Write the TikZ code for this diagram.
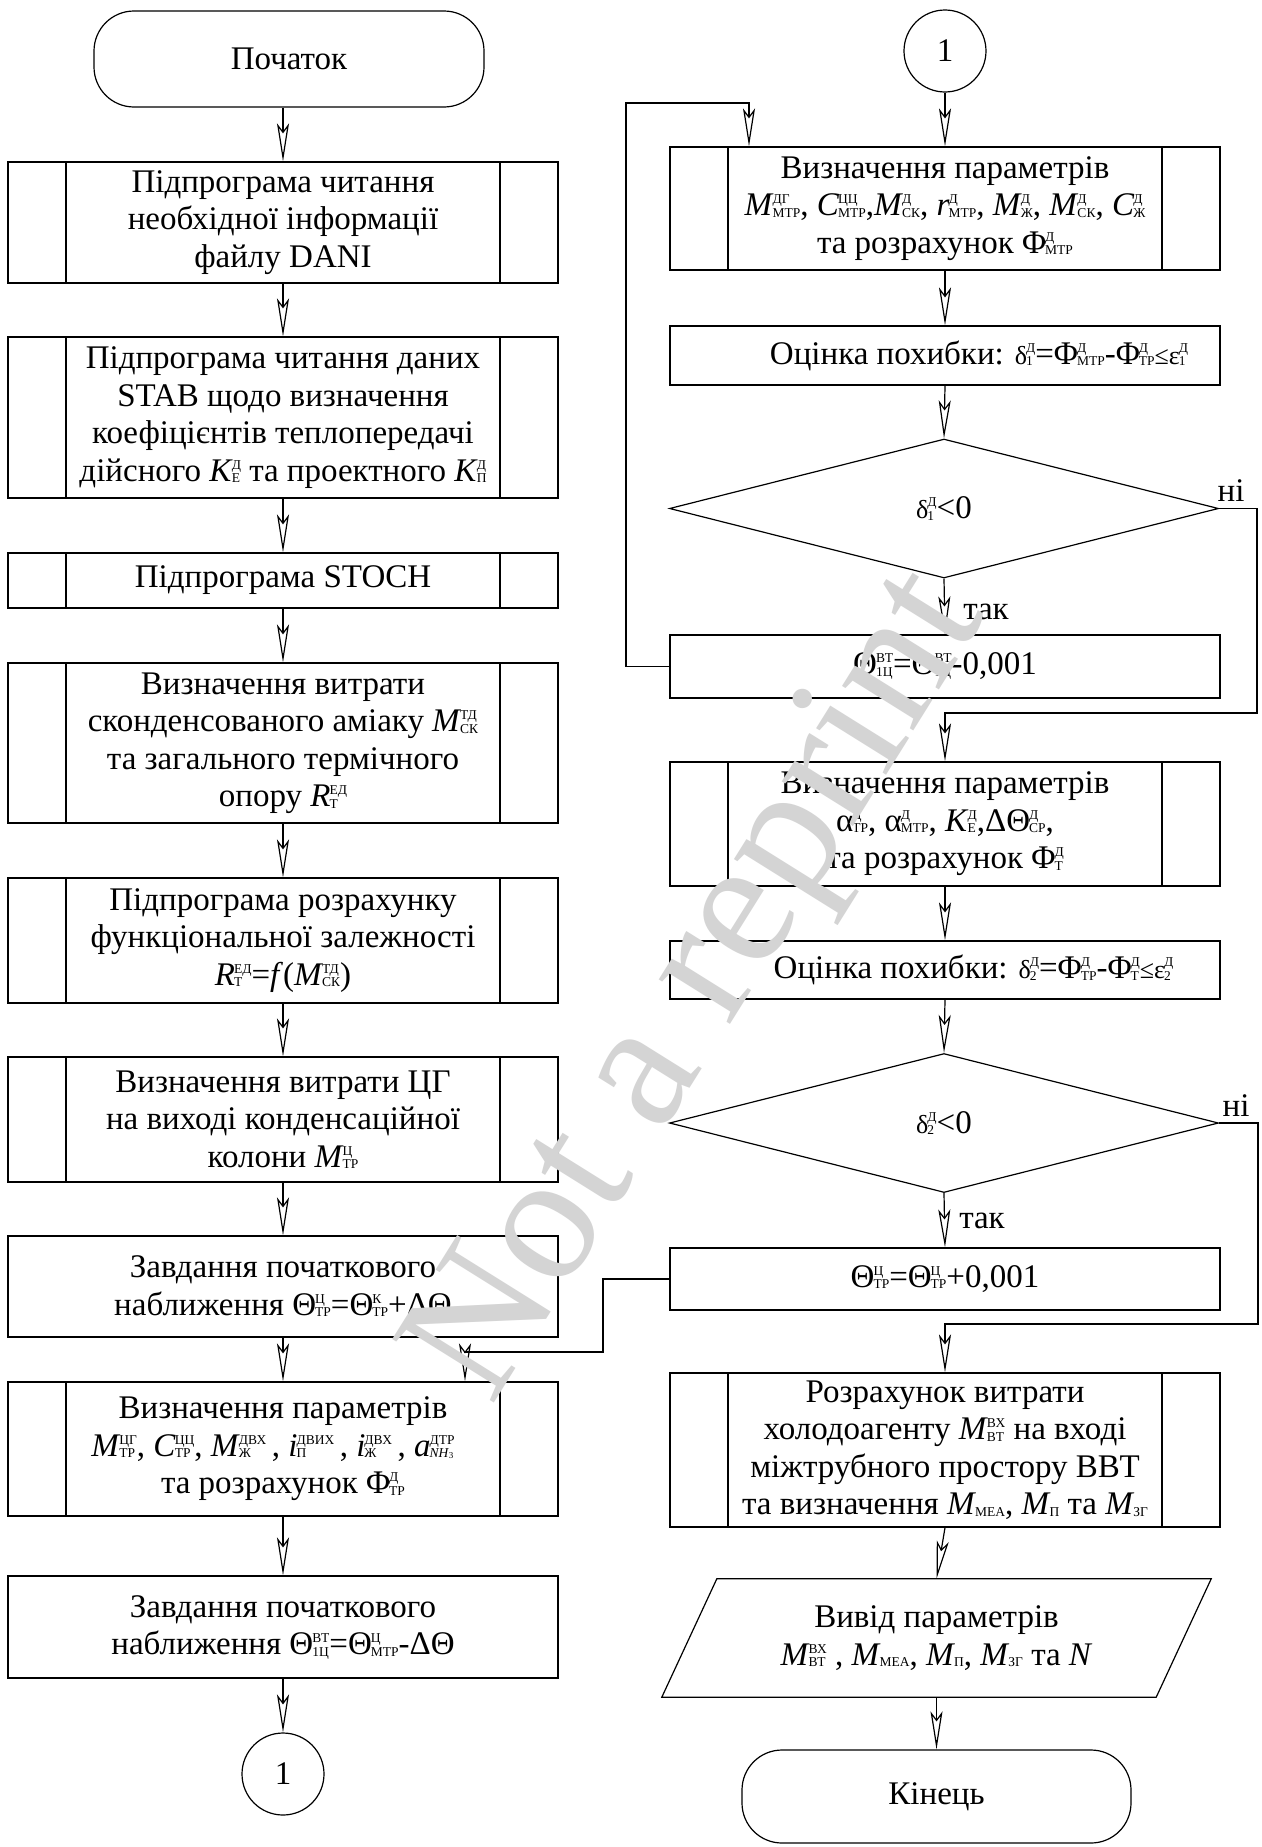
\documentclass[tikz,border=0pt]{standalone}
\usepackage{fontspec}
\setmainfont{Liberation Serif}
\usetikzlibrary{arrows.meta,shapes.geometric,calc}
\newcommand{\fs}{\fontsize{33}{37.5}\selectfont}
\newcommand{\scr}{\fontsize{13.5}{13.5}\selectfont}
\newcommand{\sm}{\fontsize{26}{26}\selectfont}
\newcommand{\sx}[2]{{\scr\setbox0=\hbox{#1}\setbox2=\hbox{#2}\dimen0=\wd0 \ifdim\wd2>\dimen0 \dimen0=\wd2 \fi\kern-1pt\rlap{\raise12pt\box0}\rlap{\lower1.5pt\box2}\kern\dimen0 }}
\newcommand{\sbx}[1]{{\scr\kern-1pt\lower1.5pt\hbox{#1}}}
\newcommand{\I}[1]{\textit{#1}}
\begin{document}
\begin{tikzpicture}[x=1pt,y=-1pt,
  every node/.style={font=\fs, inner sep=2pt, align=center},
  box/.style={draw, line width=1.2pt, rectangle, minimum width=550},
  subproc/.style={box, path picture={\draw[line width=1.2pt] ([xshift=58pt]path picture bounding box.north west) -- ([xshift=58pt]path picture bounding box.south west) ([xshift=-58pt]path picture bounding box.north east) -- ([xshift=-58pt]path picture bounding box.south east);}},
  term/.style={draw, line width=1.2pt, rounded corners=40pt, minimum width=390, minimum height=96},
  conn/.style={draw, circle, line width=1.2pt, minimum size=82, inner sep=0pt},
  dec/.style={draw, diamond, line width=1.2pt, minimum width=549, minimum height=139, inner sep=0pt},
  arr/.style={line width=1.2pt, -{Stealth[open, length=38pt, width=12pt, inset=8pt]}},
  lnk/.style={line width=1.2pt}
]
\fill[white] (0,0) rectangle (1261,1847);
\useasboundingbox (0,0) rectangle (1261,1847);

% left column
\node[term] (ts) at (289,59) {Початок};
\node[subproc, minimum height=121] (b1) at (283,222.5) {Підпрограма читання\\необхідної інформації\\файлу DANI};
\node[subproc, minimum height=161] (b2) at (283,417.5) {Підпрограма читання даних\\STAB щодо визначення\\коефіцієнтів теплопередачі\\дійсного \I{K}\sx{Д}{Е} та проектного \I{K}\sx{Д}{П}};
\node[subproc, minimum height=55] (b3) at (283,580.5) {Підпрограма STOCH};
\node[subproc, minimum height=160] (b4) at (283,743) {Визначення витрати\\сконденсованого аміаку \I{M}\sx{ТД}{СК}\\та загального термічного\\опору \I{R}\sx{ЕД}{Т}};
\node[subproc, minimum height=125] (b5) at (283,940.5) {Підпрограма розрахунку\\функціональної залежності\\\I{R}\sx{ЕД}{Т}=\I{f}(\I{M}\sx{ТД}{СК})};
\node[subproc, minimum height=125] (b6) at (283,1119.5) {Визначення витрати ЦГ\\на виході конденсаційної\\колони \I{M}\sx{Ц}{ТР}};
\node[box, minimum height=101] (b7) at (283,1286.5) {Завдання початкового\\наближення Θ\sx{Ц}{ТР}=Θ\sx{К}{ТР}+ΔΘ};
\node[subproc, minimum height=134] (b8) at (283,1449) {Визначення параметрів\\\hspace*{-20pt}\I{M}\sx{ЦГ}{ТР}, \I{C}\sx{ЦЦ}{ТР}, \I{M}\sx{ДВХ}{Ж}\,, \I{i}\sx{ДВИХ}{П}\,, \I{i}\sx{ДВХ}{Ж}\,, \I{a}\sx{ДТР}{\I{NH}\lower1pt\hbox{\fontsize{9}{9}\selectfont 3}}\\та розрахунок Φ\sx{Д}{ТР}};
\node[box, minimum height=102] (b9) at (283,1627) {Завдання початкового\\наближення Θ\sx{ВТ}{1Ц}=Θ\sx{Ц}{МТР}-ΔΘ};
\node[conn] (c1) at (283,1774) {1};

% right column
\node[conn] (c2) at (945,51) {1};
\node[subproc, minimum height=123] (r1) at (945,208.5) {Визначення параметрів\\\I{M}\sx{ДГ}{МТР}, \I{C}\sx{ЦЦ}{МТР},\I{M}\sx{Д}{СК}, \I{r}\sx{Д}{МТР}, \I{M}\sx{Д}{Ж}, \I{M}\sx{Д}{СК}, \I{C}\sx{Д}{Ж}\\та розрахунок Φ\sx{Д}{МТР}};
\node[box, minimum height=59] (r2) at (945,355.5) {\hspace*{68pt}Оцінка похибки: {\sm δ}\sx{Д}{1}=Φ\sx{Д}{МТР}-Φ\sx{Д}{ТР}{\sm ≤}{\sm ε}\sx{Д}{1}};
\node[dec] (d1) at (944,508.5) {{\sm δ}\sx{Д}{1}<0};
\node[box, minimum height=63] (r3) at (945,666.5) {Θ\sx{ВТ}{1Ц}=Θ\sx{ВТ}{1Ц}-0,001};
\node[subproc, minimum height=124] (r4) at (945,824) {Визначення параметрів\\α\sx{Д}{ТР}, α\sx{Д}{МТР}, \I{K}\sx{Д}{Е},ΔΘ\sx{Д}{СР},\\та розрахунок Φ\sx{Д}{Т}};
\node[box, minimum height=58] (r5) at (945,970) {\hspace*{57pt}Оцінка похибки: {\sm δ}\sx{Д}{2}=Φ\sx{Д}{ТР}-Φ\sx{Д}{Т}{\sm ≤}{\sm ε}\sx{Д}{2}};
\node[dec] (d2) at (944,1123) {{\sm δ}\sx{Д}{2}<0};
\node[box, minimum height=62] (r6) at (945,1279) {Θ\sx{Ц}{ТР}=Θ\sx{Ц}{ТР}+0,001};
\node[subproc, minimum height=154] (r7) at (945,1450) {Розрахунок витрати\\холодоагенту \I{M}\sx{ВХ}{ВТ} на вході\\міжтрубного простору ВВТ\\та визначення \I{M}\sbx{МЕА}, \I{M}\sbx{П} та \I{M}\sbx{ЗГ}};
\node[minimum width=549, minimum height=118] (p) at (936.5,1638) {Вивід параметрів\\\I{M}\sx{ВХ}{ВТ} , \I{M}\sbx{МЕА}, \I{M}\sbx{П}, \I{M}\sbx{ЗГ} та \I{N}};
\draw[lnk] ([xshift=55pt]p.north west) -- (p.north east) -- ([xshift=-55pt]p.south east) -- (p.south west) -- cycle;
\node[term, minimum width=389, minimum height=93] (te) at (936.5,1796.5) {Кінець};

% labels
\node (ni1) at (1231,491) {ні};
\node (ni2) at (1236,1106) {ні};
\node (tak1) at (986,612) {так};
\node (tak2) at (982,1221) {так};

% coordinates for loops
\coordinate (l1) at (626,103);
\coordinate (t1) at ([xshift=-196pt]r1.north);
\coordinate (n1) at (1257,713);
\coordinate (l2) at (603,1352);
\coordinate (t2) at ([xshift=182pt]b8.north);
\coordinate (n2) at (1258,1324);

% left connectors
\draw[arr] (ts.south -| b1.north) -- (b1.north);
\draw[arr] (b1.south) -- (b2.north);
\draw[arr] (b2.south) -- (b3.north);
\draw[arr] (b3.south) -- (b4.north);
\draw[arr] (b4.south) -- (b5.north);
\draw[arr] (b5.south) -- (b6.north);
\draw[arr] (b6.south) -- (b7.north);
\draw[arr] (b7.south) -- (b8.north);
\draw[arr] (b8.south) -- (b9.north);
\draw[arr] (b9.south) -- (c1.north);

% right connectors
\draw[arr] (c2.south) -- (r1.north);
\draw[arr] (r1.south) -- (r2.north);
\draw[arr] (r2.south) -- (d1.north);
\draw[arr] (d1.south) -- (r3.north);
\draw[arr] (r4.south) -- (r5.north);
\draw[arr] (r5.south) -- (d2.north);
\draw[arr] (d2.south) -- (r6.north);
\draw[arr] (r7.south) -- (p.north);
\draw[arr] (p.south) -- (te.north);

% loops and branches
\draw[arr] (r3.west) -| (l1) -| (t1);
\draw[arr] (d1.east) -| (n1) -| (r4.north);
\draw[arr] (r6.west) -| (l2) -| (t2);
\draw[arr] (d2.east) -| (n2) -| (r7.north);

% watermark
\node[font=\fontsize{183}{183}\selectfont, text=black!17, rotate=58, inner sep=0pt] (wm) at (704,989) {Not a reprint};
\end{tikzpicture}
\end{document}
